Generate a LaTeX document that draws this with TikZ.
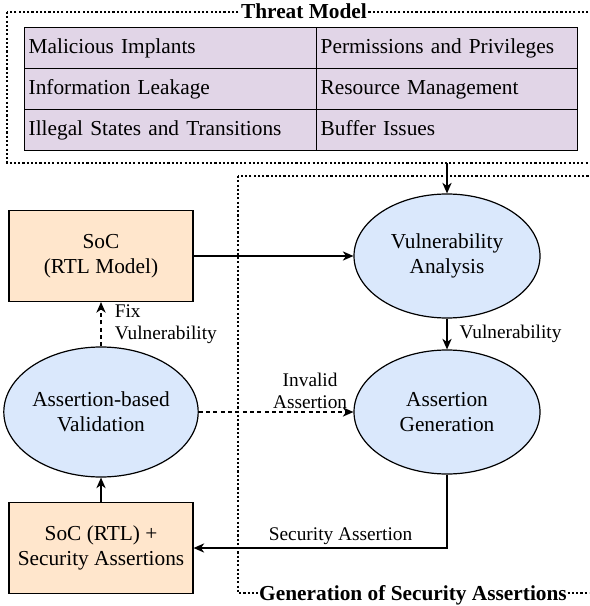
\documentclass[tikz,border=0pt]{standalone}
\usepackage{fontspec}
\setmainfont{Liberation Serif}
\usetikzlibrary{arrows.meta,shapes.geometric}

\definecolor{cellfill}{HTML}{E1D5E7}
\definecolor{socfill}{HTML}{FFE6CC}
\definecolor{stagefill}{HTML}{DAE8FC}

\begin{document}
\begin{tikzpicture}[x=0.75pt,y=-0.75pt,
		>={Stealth[length=8pt,width=7pt,inset=2.5pt]},
		every node/.style={font=\fontsize{16}{18.4}\selectfont},
		cell/.style={draw, line width=1pt, fill=cellfill, anchor=north west,
			minimum height=30.75pt, inner xsep=3pt, inner ysep=0pt,
			text height=11pt, text depth=3.5pt, align=left},
		socbox/.style={draw, line width=0.9pt, fill=socfill, minimum width=138pt,
			minimum height=68.25pt, align=center, inner sep=0pt},
		stage/.style={ellipse, draw, line width=0.9pt, fill=stagefill,
			minimum width=139.5pt, minimum height=93pt, align=center, inner sep=0pt},
		group/.style={line width=1.8pt, dash pattern=on 1.6pt off 1.6pt},
		grouptitle/.style={font=\fontsize{16}{18.4}\selectfont\bfseries,
			fill=white, inner xsep=0.5pt, inner ysep=1pt},
		flow/.style={->, line width=0.8pt},
		lbl/.style={font=\fontsize{14.5}{16.7}\selectfont, inner sep=1pt}
	]
	\path[use as bounding box, clip] (0,0) rectangle (589,606);

	\draw[group] (7,12) rectangle (601,163);
	\draw[group] (238,176) rectangle (600,593);

		\node[cell, text width=213pt] (implants) at (24,27) 
			{Malicious Implants};
		\node[cell, text width=213pt] (leakage) at (24,68) 
			{Information Leakage};
		\node[cell, text width=213pt] (states) at (24,109) 
			{Illegal States and Transitions};
		\node[cell, text width=189.75pt] (privileges) at (316,27) 
			{Permissions and Privileges};
		\node[cell, text width=189.75pt] (resource) at (316,68) 
			{Resource Management};
		\node[cell, text width=189.75pt] (buffer) at (316,109) 
			{Buffer Issues};

		\node[grouptitle] (threattitle) at (304,11) 
			{Threat Model};
		\node[grouptitle] (gentitle) at (413,595) 
			{Generation of Security Assertions};

		\node[socbox] (soc) at (101,256) 
			{SoC\\(RTL Model)};
		\node[stage] (vuln) at (447,256) 
			{Vulnerability\\Analysis};
		\node[stage] (gen) at (447,412) 
			{Assertion\\Generation};
		\node[stage, minimum height=97.5pt] (valid) at (101,412) 
			{Assertion-based\\Validation};
		\node[socbox] (socsec) at (101,548) 
			{SoC (RTL) +\\Security Assertions};
		\coordinate (threatout) at (447,163);

		\draw [flow] (threatout) to (vuln);
		\draw [flow] (soc) to (vuln);
		\draw [flow] (vuln) to 
			node 
				[lbl, right=8pt] 
				{Vulnerability} 
			(gen);
		\draw [flow, dash pattern=on 3pt off 2.5pt] (valid) to 
			node 
				[lbl, above=1pt, pos=0.72, align=center] 
				{Invalid\\Assertion} 
			(gen);
		\draw [flow, dash pattern=on 3pt off 2.5pt] (valid) to 
			node 
				[lbl, right=9pt, align=left] 
				{Fix\\Vulnerability} 
			(soc);
		\draw [flow] (socsec) to (valid);
		\draw [flow] (gen) |- 
			node 
				[lbl, above=1pt, pos=0.71] 
				{Security Assertion} 
			(socsec);
\end{tikzpicture}
\end{document}
